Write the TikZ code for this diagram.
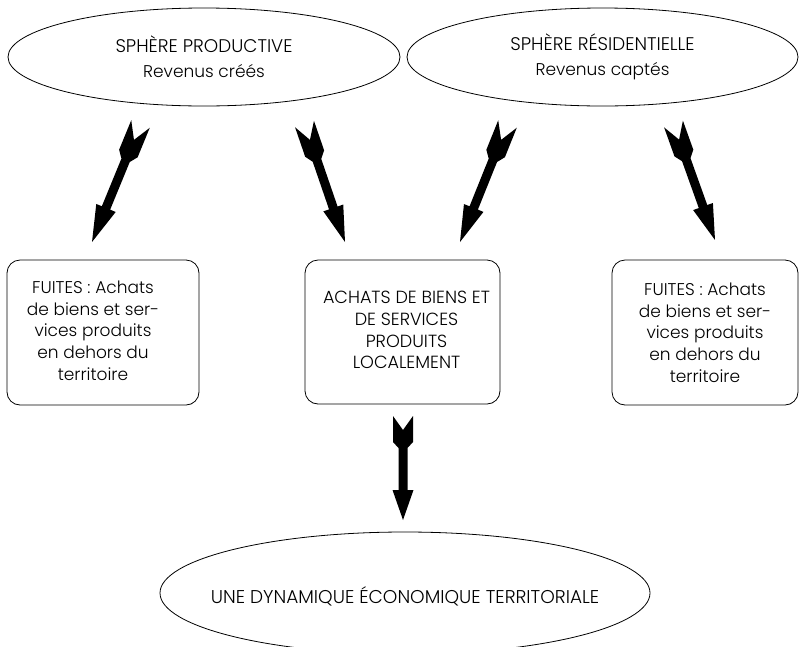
\documentclass[tikz,border=0pt]{standalone}
\usepackage{fontspec}
\setmainfont{Poppins Light}
\usetikzlibrary{shapes.geometric,calc}
\newcommand\capsz{\fontsize{18.3}{25}\selectfont}
\tikzset{
  x=1pt, y=-1pt,
  sphere/.style={ellipse, draw, line width=0.8pt, inner sep=0pt, align=center,
    font=\fontsize{17}{25}\selectfont},
  boite/.style={rectangle, rounded corners=13pt, draw, line width=0.8pt,
    align=center, inner sep=0pt},
}
\newdimen\fdx \newdimen\fdy
\newcommand\fletch[2]{%
  \pgfextractx{\fdx}{\pgfpointdiff{\pgfpointanchor{#1}{center}}{\pgfpointanchor{#2}{center}}}%
  \pgfextracty{\fdy}{\pgfpointdiff{\pgfpointanchor{#1}{center}}{\pgfpointanchor{#2}{center}}}%
  \pgfmathsetmacro\fang{atan2(\fdy,\fdx)}%
  \pgfmathsetmacro\fk{veclen(\fdx,\fdy)/104}%
  \fill[shift={(#1)}, rotate=\fang] (0,10) -- ({14*\fk},0) -- (0,-10)
    -- ({26*\fk},-10) -- ({32*\fk},-4.5) -- ({74*\fk},-4.5) -- ({74*\fk},-10.5)
    -- ({104*\fk},0) -- ({74*\fk},10.5) -- ({74*\fk},4.5) -- ({32*\fk},4.5)
    -- ({26*\fk},10) -- cycle;
}
\begin{document}
\begin{tikzpicture}
\useasboundingbox (0,0) rectangle (800,646);
\clip (0,0) rectangle (800,646);
\node[sphere, minimum width=392, minimum height=98] (prod) at (204,57)
  {{\capsz SPHÈRE PRODUCTIVE}\\Revenus créés};
\node[sphere, minimum width=391, minimum height=98] (resi) at (602.5,57)
  {{\capsz SPHÈRE RÉSIDENTIELLE}\\Revenus captés};
\node[boite, minimum width=192, minimum height=145,
  font=\fontsize{17}{21.7}\selectfont] (fuiteL) at (103,332.5)
  {\begin{tabular}{@{}c@{\hspace{20pt}}}FUITES : Achats\\de biens et ser-\\vices produits\\en dehors du\\territoire\end{tabular}};
\node[boite, minimum width=195, minimum height=144,
  font=\fontsize{17.6}{21.7}\selectfont] (local) at (402.5,332)
  {\begin{tabular}{@{\hspace{8pt}}c@{}}ACHATS DE BIENS ET\\DE SERVICES\\PRODUITS\\LOCALEMENT\end{tabular}};
\node[boite, minimum width=186, minimum height=145,
  font=\fontsize{17}{21.7}\selectfont] (fuiteR) at (705,332.5)
  {FUITES : Achats\\de biens et ser-\\vices produits\\en dehors du\\territoire};
\node[sphere, minimum width=490, minimum height=122,
  font=\fontsize{18.5}{22}\selectfont] (dyn) at (405,593)
  {\makebox[0pt]{\raisebox{-10pt}[0pt][0pt]{UNE DYNAMIQUE ÉCONOMIQUE TERRITORIALE}}};
\coordinate (t1) at (140.5,124); \coordinate (h1) at (92,242);
\coordinate (t2) at (304.5,124); \coordinate (h2) at (345,242);
\coordinate (t3) at (507.5,124); \coordinate (h3) at (460,242);
\coordinate (t4) at (673.5,124); \coordinate (h4) at (715,240);
\coordinate (t5) at (403,416);   \coordinate (h5) at (403,520);
\fletch{t1}{h1}
\fletch{t2}{h2}
\fletch{t3}{h3}
\fletch{t4}{h4}
\fletch{t5}{h5}
\end{tikzpicture}
\end{document}
